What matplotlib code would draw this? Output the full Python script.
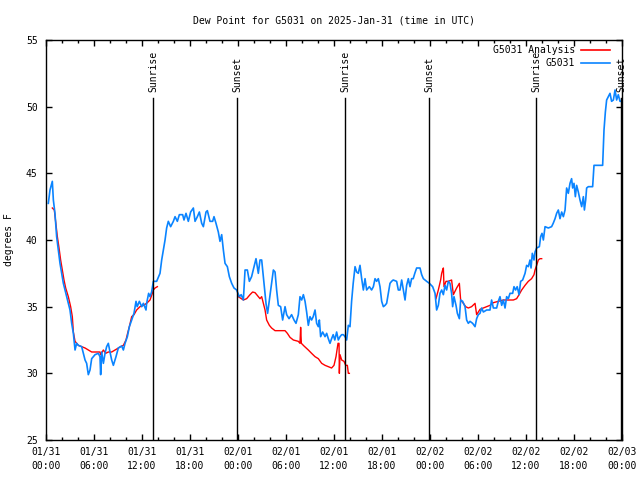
import numpy as np
import pandas as pd
import matplotlib
matplotlib.use("Agg")
import matplotlib.pyplot as plt
import matplotlib.dates as mdates
from matplotlib.lines import Line2D

plt.rcParams["font.family"] = "DejaVu Sans Mono"
plt.rcParams["font.size"] = 7

start = pd.Timestamp("2025-01-31 00:00")

# blue: station observations (hours since start, deg F)
obs_hours = [
    0.29, 0.5, 0.79, 0.92, 1.12, 1.33, 1.54, 1.75, 1.96, 2.17,
    2.38, 2.58, 3.0, 3.21, 3.42, 3.63, 3.83, 4.04, 4.46, 4.88,
    5.08, 5.29, 5.5, 5.71, 6.13, 6.54, 6.75, 6.83, 6.96, 7.17,
    7.38, 7.58, 7.79, 8.0, 8.21, 8.42, 8.75, 9.04, 9.46, 9.67,
    9.88, 10.17, 10.42, 10.71, 11.0, 11.25, 11.4, 11.67, 11.96, 12.17,
    12.5, 12.58, 12.83, 13.0, 13.2, 13.42, 13.83, 14.25, 14.46, 14.67,
    14.88, 15.08, 15.29, 15.58, 15.92, 16.13, 16.42, 16.67, 17.08, 17.25,
    17.5, 17.79, 18.08, 18.42, 18.63, 18.92, 19.17, 19.46, 19.67, 20.0,
    20.17, 20.5, 20.83, 21.0, 21.25, 21.54, 21.75, 21.96, 22.17, 22.38,
    22.67, 22.92, 23.21, 23.5, 23.83, 24.17, 24.4, 24.67, 24.88, 25.17,
    25.42, 25.7, 26.0, 26.25, 26.54, 26.75, 26.96, 27.17, 27.5, 27.7,
    27.9, 28.13, 28.42, 28.63, 28.83, 29.04, 29.33, 29.58, 29.88, 30.08,
    30.38, 30.7, 31.0, 31.25, 31.54, 31.75, 31.96, 32.17, 32.38, 32.58,
    32.79, 33.0, 33.2, 33.4, 33.63, 33.83, 34.04, 34.17, 34.33, 34.58,
    34.88, 35.08, 35.29, 35.5, 35.7, 35.9, 36.1, 36.33, 36.54, 36.75,
    36.96, 37.17, 37.38, 37.58, 37.79, 38.0, 38.2, 38.4, 38.63, 38.83,
    39.04, 39.25, 39.46, 39.67, 39.88, 40.08, 40.42, 40.7, 40.92, 41.13,
    41.33, 41.54, 41.75, 41.96, 42.17, 42.38, 42.58, 42.79, 43.0, 43.2,
    43.4, 43.83, 44.04, 44.25, 44.46, 44.67, 44.88, 45.08, 45.29, 45.5,
    45.7, 45.9, 46.1, 46.33, 46.75, 46.96, 47.17, 47.58, 47.92, 48.33,
    48.63, 48.83, 49.04, 49.25, 49.46, 49.67, 49.88, 50.08, 50.29, 50.5,
    50.7, 50.83, 51.0, 51.25, 51.42, 51.67, 51.83, 52.08, 52.38, 52.58,
    52.79, 53.0, 53.33, 53.63, 53.83, 54.04, 54.25, 54.46, 54.67, 55.08,
    55.5, 55.7, 55.92, 56.33, 56.54, 56.75, 56.96, 57.17, 57.38, 57.58,
    57.79, 58.0, 58.33, 58.5, 58.7, 58.9, 59.13, 59.33, 59.58, 59.88,
    60.08, 60.29, 60.5, 60.63, 60.79, 61.0, 61.13, 61.33, 61.67, 61.83,
    62.0, 62.17, 62.38, 62.79, 63.2, 63.4, 63.63, 63.83, 64.04, 64.25,
    64.46, 64.67, 64.88, 65.08, 65.29, 65.5, 65.7, 65.83, 66.0, 66.17,
    66.33, 66.54, 66.75, 66.96, 67.17, 67.3, 67.46, 67.58, 67.79, 68.33,
    68.5, 69.58, 69.75, 69.92, 70.08, 70.29, 70.5, 70.7, 70.92, 71.13,
    71.33, 71.54, 71.75, 71.96,
]
obs_dewpt = [
    42.75, 43.75, 44.4, 43.0, 42.0, 40.25, 39.25, 38.25, 37.5, 36.75,
    36.25, 35.75, 34.75, 33.75, 33.0, 31.75, 32.25, 32.1, 32.0, 31.0,
    30.75, 29.9, 30.25, 31.1, 31.4, 31.5, 31.25, 29.9, 31.6, 30.75,
    31.5, 32.0, 32.25, 31.6, 31.0, 30.6, 31.25, 31.9, 32.05, 31.75,
    32.25, 32.75, 33.5, 34.0, 34.5, 35.4, 35.0, 35.4, 35.0, 35.25,
    34.75, 35.25, 36.0, 35.75, 36.1, 36.9, 36.9, 37.5, 38.5, 39.25,
    40.0, 40.9, 41.4, 41.0, 41.4, 41.75, 41.4, 41.9, 41.9, 41.5,
    42.0, 41.4, 42.1, 42.4, 41.4, 41.75, 42.1, 41.25, 41.0, 42.1,
    42.2, 41.4, 41.4, 41.75, 41.25, 40.6, 39.9, 40.4, 39.25, 38.25,
    38.0, 37.25, 36.75, 36.4, 36.25, 35.75, 35.9, 35.5, 37.75, 37.75,
    36.9, 37.25, 38.0, 38.6, 37.5, 38.5, 38.5, 37.25, 35.25, 34.5,
    35.4, 36.4, 37.75, 37.6, 36.25, 35.1, 35.0, 34.0, 35.0, 34.4,
    34.1, 34.4, 34.0, 33.75, 34.4, 35.75, 35.5, 35.9, 35.4, 34.6,
    33.6, 34.25, 34.0, 34.25, 34.75, 33.75, 33.5, 34.0, 32.75, 33.1,
    32.75, 33.0, 32.6, 32.25, 32.6, 32.9, 32.5, 33.1, 32.5, 32.75,
    32.9, 32.9, 32.75, 32.5, 33.6, 33.5, 35.4, 36.75, 38.0, 37.6,
    37.5, 38.1, 37.1, 36.25, 37.1, 36.25, 36.5, 36.25, 36.5, 37.1,
    36.9, 37.1, 36.5, 35.4, 35.0, 35.1, 35.25, 36.0, 36.75, 36.9,
    37.0, 36.9, 36.25, 36.25, 37.0, 36.25, 35.5, 36.6, 37.1, 36.5,
    37.1, 37.1, 37.5, 37.9, 37.9, 37.4, 37.1, 36.9, 36.75, 36.5,
    36.0, 34.75, 35.1, 36.0, 36.25, 35.9, 36.6, 36.25, 36.9, 36.75,
    36.0, 35.0, 35.75, 35.1, 34.5, 34.1, 35.5, 35.4, 35.0, 34.0,
    33.75, 33.9, 33.75, 33.5, 34.1, 34.4, 34.5, 34.9, 34.6, 34.75,
    34.75, 35.5, 34.9, 34.9, 35.4, 35.75, 35.1, 35.5, 34.9, 35.75,
    35.6, 36.0, 36.0, 36.5, 36.25, 36.5, 35.9, 36.9, 37.0, 37.5,
    38.1, 38.0, 38.5, 37.9, 39.0, 38.5, 39.1, 39.4, 39.5, 40.25,
    40.5, 40.0, 41.0, 40.9, 41.0, 41.25, 41.6, 42.0, 42.25, 41.6,
    42.1, 41.75, 42.25, 43.9, 43.5, 44.25, 44.6, 43.9, 44.25, 43.25,
    44.1, 43.6, 43.0, 42.5, 43.25, 42.25, 43.0, 43.9, 44.0, 44.0,
    45.6, 45.6, 48.25, 49.6, 50.5, 50.75, 51.0, 50.4, 50.5, 51.25,
    50.5, 50.9, 50.4, 50.4,
]

# red: analysis, three segments separated by gaps (nan)
ana_hours = [
    0.79, 1.04, 1.2, 1.42, 1.63, 1.83, 2.04, 2.25, 2.46, 2.79,
    3.08, 3.29, 3.42, 3.63, 4.04, 4.46, 4.88, 5.29, 5.71, 6.33,
    6.75, 6.83, 7.17, 7.46, 7.79, 8.21, 8.63, 9.04, 9.33, 9.67,
    10.0, 10.2, 10.42, 10.71, 11.0, 11.33, 11.75, 12.17, 12.58, 13.0,
    13.29, 13.42, 13.63, 13.92, np.nan,
    24.04, 24.67, 25.08, 25.5, 25.83, 26.13, 26.54, 26.75, 26.96, 27.17,
    27.38, 27.58, 27.92, 28.2, 28.63, 29.25, 29.88, 30.17, 30.5, 30.92,
    31.54, 31.75, 31.83, 31.92, 32.25, 32.79, 33.2, 33.63, 34.04, 34.46,
    34.88, 35.29, 35.7, 36.0, 36.25, 36.5, 36.63, 36.67, 36.75, 36.96,
    37.25, 37.46, 37.67, 37.79, 37.92, np.nan,
    48.75, 49.04, 49.33, 49.46, 49.58, 49.67, 49.75, 50.0, 50.29, 50.7,
    50.92, 51.33, 51.67, 51.83, 52.17, 52.46, 52.79, 53.2, 53.63, 53.83,
    54.25, 54.67, 55.08, 55.5, 55.92, 56.54, 57.17, 57.79, 58.42, 58.83,
    59.13, 59.46, 59.88, 60.29, 60.7, 61.0, 61.13, 61.33, 61.54, 61.75,
    61.96,
]
ana_dewpt = [
    42.4, 42.25, 41.4, 40.25, 39.4, 38.5, 37.75, 37.0, 36.4, 35.75,
    35.0, 34.25, 33.1, 32.4, 32.1, 32.0, 31.9, 31.75, 31.6, 31.6,
    31.6, 31.4, 31.75, 31.5, 31.6, 31.6, 31.75, 31.9, 32.0, 32.1,
    32.5, 33.0, 33.5, 34.25, 34.4, 34.75, 35.0, 35.1, 35.25, 35.5,
    36.0, 36.25, 36.4, 36.5, np.nan,
    35.75, 35.5, 35.6, 35.9, 36.1, 36.05, 35.75, 35.6, 35.75, 35.25,
    34.75, 34.0, 33.6, 33.4, 33.2, 33.2, 33.2, 33.0, 32.7, 32.5,
    32.4, 32.25, 33.45, 32.25, 32.05, 31.75, 31.5, 31.25, 31.1, 30.75,
    30.6, 30.5, 30.4, 30.6, 31.25, 32.25, 32.25, 30.0, 31.4, 31.0,
    30.9, 30.6, 30.6, 30.0, 30.0, np.nan,
    35.6, 36.25, 37.0, 37.5, 37.75, 37.9, 36.5, 36.9, 36.9, 37.0,
    35.9, 36.4, 36.75, 35.5, 35.25, 35.0, 34.9, 35.0, 35.25, 34.4,
    34.8, 34.9, 35.0, 35.1, 35.3, 35.4, 35.5, 35.5, 35.5, 35.6,
    35.9, 36.25, 36.6, 36.9, 37.1, 37.4, 37.75, 38.1, 38.5, 38.6,
    38.6,
]

sun_hours = [13.42, 23.92, 37.42, 47.92, 61.3, 71.88]
sun_labels = ["Sunrise", "Sunset", "Sunrise", "Sunset", "Sunrise", "Sunset"]


def to_time(hours):
    return start + pd.to_timedelta(np.asarray(hours, dtype=float), unit="h")


fig = plt.figure(figsize=(6.4, 4.8), dpi=100)
ax = fig.add_axes([46 / 640, 40 / 480, 576 / 640, 400 / 480])

ax.plot(to_time(ana_hours), ana_dewpt, color="#ff0000", lw=1.0)
ax.plot(to_time(obs_hours), obs_dewpt, color="#0a84ff", lw=1.2)

# sunrise / sunset markers
for h, lab in zip(sun_hours, sun_labels):
    t = to_time([h])[0]
    ax.plot([t, t], [25, 50.65], color="black", lw=1.0)
    ax.text(t, 51.1, lab, rotation=90, ha="center", va="bottom", clip_on=False)

ax.set_xlim(start, start + pd.Timedelta(hours=72))
ax.set_ylim(25, 55)
ax.set_yticks([25, 30, 35, 40, 45, 50, 55])

ax.xaxis.set_major_locator(mdates.HourLocator(byhour=[0, 6, 12, 18]))
ax.xaxis.set_minor_locator(mdates.HourLocator(byhour=range(0, 24, 2)))
ax.xaxis.set_major_formatter(mdates.DateFormatter("%m/%d\n%H:%M"))

ax.tick_params(which="both", direction="in", top=True, right=True, width=1)
ax.tick_params(axis="x", which="major", length=4, pad=5)
ax.tick_params(axis="x", which="minor", length=2.2)
ax.tick_params(axis="y", which="major", length=4, pad=6)
for lbl in ax.get_xticklabels():
    lbl.set_linespacing(1.5)

for sp in ax.spines.values():
    sp.set_linewidth(1)

ax.set_title("Dew Point for G5031 on 2025-Jan-31 (time in UTC)", fontsize=7, pad=12)
ax.set_ylabel("degrees F")
ax.yaxis.set_label_coords(-0.055, 0.5)

# legend, gnuplot style (text right-aligned, sample on the right)
for i, (name, col) in enumerate([("G5031 Analysis", "#ff0000"), ("G5031", "#0a84ff")]):
    y = 0.975 - i * 0.0325
    ax.text(0.918, y, name, transform=ax.transAxes, ha="right", va="center")
    ax.add_line(Line2D([0.929, 0.979], [y, y], transform=ax.transAxes, color=col, lw=1.2))

fig.savefig("out.png", dpi=100, facecolor="white")
